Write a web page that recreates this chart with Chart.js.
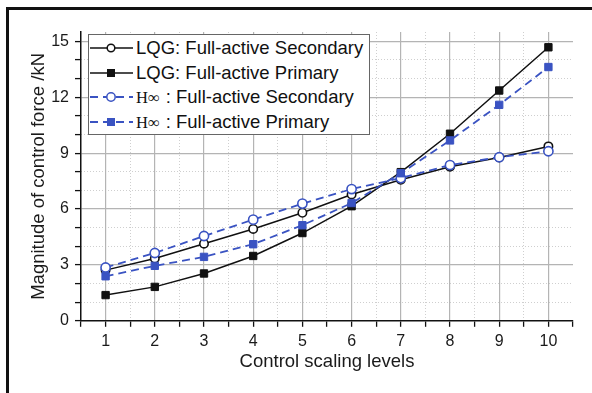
<!DOCTYPE html>
<html>
<head>
<meta charset="utf-8">
<script src="https://cdn.jsdelivr.net/npm/chart.js@4/dist/chart.umd.min.js"></script>
<style>
  html, body { margin: 0; padding: 0; background: #fff; }
  #wrap { position: relative; width: 592px; height: 393px; overflow: hidden; }
  #frame { position: absolute; left: 6px; top: 7px; width: 700px; height: 500px;
           border-left: 3px solid #111; border-top: 3px solid #111; }
  #chart { position: absolute; left: 0; top: 0; }
  #legend { position: absolute; left: 88px; top: 34px; width: 280px; height: 99px;
            border: 1px solid #666; background: #fff; font-family: "Liberation Sans", Arial, sans-serif;
            font-size: 18.5px; color: #111; }
  .row { position: absolute; left: 0; height: 22px; display: flex; align-items: center; white-space: nowrap; }
  .row svg { display: block; margin-right: 3px; }
  .hinf { font-family: "Liberation Serif", "Times New Roman", serif; font-size: 16.5px; margin-right: 6px; }
</style>
</head>
<body>
<div id="wrap">
  <div id="frame"></div>
  <canvas id="chart" width="592" height="393"></canvas>
  <div id="legend"></div>
</div>
<script>
"use strict";

// ---- Data ----
const levels = [1, 2, 3, 4, 5, 6, 7, 8, 9, 10];
const lqgSecondary  = [2.72, 3.34, 4.14, 4.93, 5.80, 6.78, 7.57, 8.27, 8.77, 9.36];
const lqgPrimary    = [1.38, 1.82, 2.54, 3.48, 4.71, 6.15, 7.98, 10.04, 12.36, 14.68];
const hinfSecondary = [2.86, 3.64, 4.55, 5.43, 6.29, 7.07, 7.66, 8.36, 8.78, 9.10];
const hinfPrimary   = [2.39, 2.95, 3.43, 4.11, 5.13, 6.32, 7.92, 9.68, 11.59, 13.62];
const seriesLabels = [
  "LQG: Full-active Secondary",
  "LQG: Full-active Primary",
  "H∞ : Full-active Secondary",
  "H∞ : Full-active Primary",
];
const yTickStep = 3;

const BLACK = "#111111";
const BLUE = "#3a53c2";
const FONT = "'Liberation Sans', Arial, sans-serif";

const pts = (ys) => levels.map((x, i) => ({ x, y: ys[i] }));

function makeDataset(label, ys, color, dashed, filled, order) {
  return {
    label,
    data: pts(ys),
    borderColor: color,
    borderWidth: dashed ? 1.8 : 1.5,
    borderDash: dashed ? [8, 5] : [],
    pointStyle: filled ? "rect" : "circle",
    pointRadius: filled ? 5.2 : (dashed ? 4.6 : 4.2),
    pointBorderWidth: filled ? 1 : 1.6,
    pointBorderColor: color,
    pointBackgroundColor: filled ? color : "#ffffff",
    tension: 0,
    order,
  };
}

const datasets = [
  makeDataset(seriesLabels[0], lqgSecondary, BLACK, false, false, 4),
  makeDataset(seriesLabels[1], lqgPrimary, BLACK, false, true, 3),
  makeDataset(seriesLabels[2], hinfSecondary, BLUE, true, false, 2),
  makeDataset(seriesLabels[3], hinfPrimary, BLUE, true, true, 1),
];

const isInt = (v) => Math.abs(v - Math.round(v)) < 1e-6;

new Chart(document.getElementById("chart"), {
  type: "line",
  data: { datasets },
  options: {
    responsive: false,
    animation: false,
    layout: { padding: { left: 24, top: 32, right: 19, bottom: 20 } },
    plugins: { legend: { display: false }, tooltip: { enabled: false } },
    scales: {
      // dotted minor grids, zero-size helper axes
      xMinor: {
        type: "linear", position: "bottom", min: 0.5, max: 10.5,
        ticks: { display: false, stepSize: 0.5 },
        grid: {
          drawTicks: false, tickLength: 0,
          color: (c) => (!isInt(c.tick.value) && c.tick.value > 0.6 && c.tick.value < 10.4) ? "#cfcfcf" : "rgba(0,0,0,0)",
          lineWidth: 1,
        },
        border: { display: false, dash: [1, 2] },
        afterFit: (s) => { s.height = 0; },
      },
      yMinor: {
        type: "linear", position: "left", min: 0, max: 15.5,
        ticks: { display: false, stepSize: 1, includeBounds: false },
        grid: {
          drawTicks: false, tickLength: 0,
          color: (c) => (c.tick.value % yTickStep !== 0 && isInt(c.tick.value)) ? "#cfcfcf" : "rgba(0,0,0,0)",
          lineWidth: 1,
        },
        border: { display: false, dash: [1, 2] },
        afterFit: (s) => { s.width = 0; },
      },
      x: {
        type: "linear", position: "bottom", min: 0.5, max: 10.5,
        ticks: {
          stepSize: 0.5, autoSkip: false, maxRotation: 0, padding: 7,
          color: "#1a1a1a", font: { family: FONT, size: 16, lineHeight: 1 },
          callback: (v) => (isInt(v) ? String(Math.round(v)) : ""),
        },
        grid: {
          color: (c) => (isInt(c.tick.value) && c.tick.value > 0.6 && c.tick.value < 10.4) ? "#b4b4b4" : "rgba(0,0,0,0)",
          lineWidth: 1.2,
          tickColor: "#111",
          tickLength: 6,
          tickWidth: 1.3,
        },
        border: { display: true, color: "#111", width: 1.5 },
        title: {
          display: true, text: "Control scaling levels", color: "#1a1a1a",
          font: { family: FONT, size: 18.5 }, padding: { top: -6, bottom: 0 },
        },
      },
      y: {
        type: "linear", position: "left", min: 0, max: 15.5,
        ticks: {
          stepSize: 1, autoSkip: false, padding: 6, includeBounds: false,
          color: "#1a1a1a", font: { family: FONT, size: 16 },
          callback: (v) => (v % yTickStep === 0 ? String(v) : ""),
        },
        grid: {
          color: (c) => (c.tick.value % yTickStep === 0 && c.tick.value > 0) ? "#b4b4b4" : "rgba(0,0,0,0)",
          lineWidth: 1.2,
          tickColor: "#111",
          tickLength: 6,
          tickWidth: 1.3,
        },
        border: { display: true, color: "#111", width: 1.5 },
        title: {
          display: true, text: "Magnitude of control force /kN", color: "#1a1a1a",
          font: { family: FONT, size: 18.5 }, padding: { top: 4, bottom: -5 },
        },
      },
    },
  },
});

// ---- HTML legend built from the datasets (mixed fonts for H∞) ----
const legend = document.getElementById("legend");
const rowTops = [2, 26.5, 51, 75.5];
datasets.forEach((ds, i) => {
  const row = document.createElement("div");
  row.className = "row";
  row.style.top = rowTops[i] + "px";
  const dash = ds.borderDash.length ? `stroke-dasharray="${ds.borderDash.join(",")}"` : "";
  const marker = ds.pointStyle === "rect"
    ? `<rect x="18.5" y="7.5" width="7" height="7" fill="${ds.pointBackgroundColor}" stroke="${ds.pointBorderColor}" stroke-width="1"/>`
    : `<circle cx="22" cy="11" r="${ds.pointRadius - 0.4}" fill="#fff" stroke="${ds.pointBorderColor}" stroke-width="1.5"/>`;
  row.innerHTML =
    `<svg width="44" height="22"><line x1="1" y1="11" x2="44" y2="11" stroke="${ds.borderColor}" stroke-width="${ds.borderWidth}" ${dash}/>${marker}</svg>`;
  const span = document.createElement("span");
  if (ds.label.startsWith("H∞")) {
    const h = document.createElement("span");
    h.className = "hinf";
    h.textContent = "H∞";
    span.appendChild(h);
    span.appendChild(document.createTextNode(ds.label.slice(2).trimStart()));
  } else {
    span.textContent = ds.label;
  }
  row.appendChild(span);
  legend.appendChild(row);
});
</script>
</body>
</html>
